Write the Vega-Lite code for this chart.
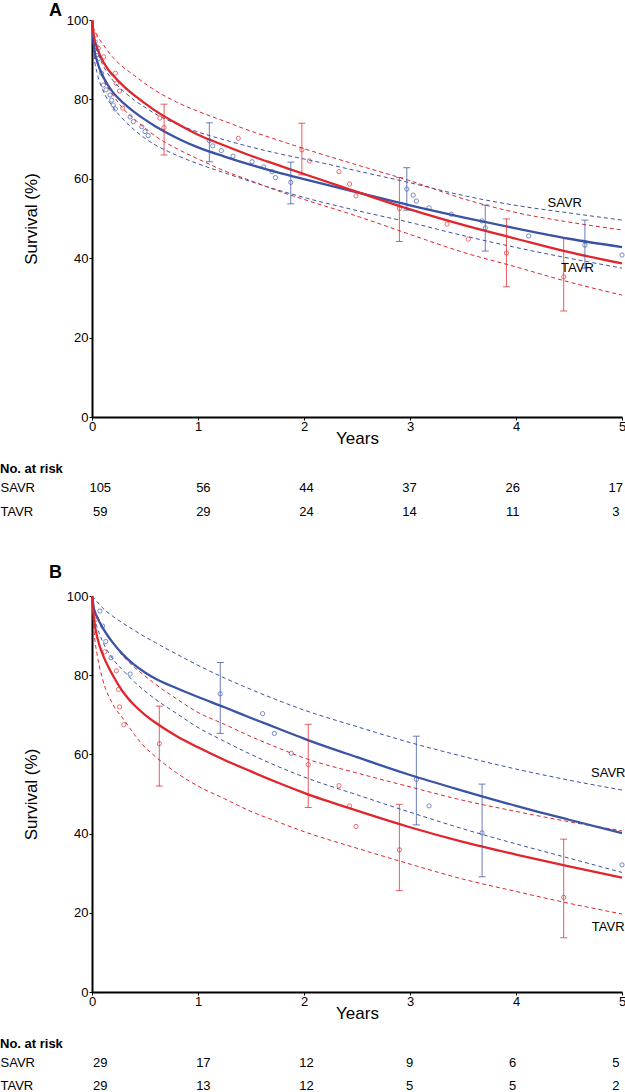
{
"$schema":"https://vega.github.io/schema/vega-lite/v6.json",
"padding":{"left":0,"top":2,"right":0,"bottom":0},
"bounds":"flush",
"spacing":59,
"config":{"font":"Liberation Sans","view":{"stroke":null},"axis":{"grid":false,"labelColor":"#000","titleColor":"#000","domainColor":"#000","tickColor":"#000","titleFontWeight":"normal","labelFont":"Liberation Sans","titleFont":"Liberation Sans"},"title":{"font":"Liberation Sans","color":"#000"}},
"datasets":{
"curvesA":[
{"arm":"SAVR","kind":"fit","t":0,"s":100},{"arm":"SAVR","kind":"fit","t":0.02,"s":93},{"arm":"SAVR","kind":"fit","t":0.05,"s":89.5},{"arm":"SAVR","kind":"fit","t":0.1,"s":86},{"arm":"SAVR","kind":"fit","t":0.15,"s":83.6},{"arm":"SAVR","kind":"fit","t":0.2,"s":81.7},{"arm":"SAVR","kind":"fit","t":0.3,"s":79},{"arm":"SAVR","kind":"fit","t":0.4,"s":76.8},{"arm":"SAVR","kind":"fit","t":0.5,"s":74.9},{"arm":"SAVR","kind":"fit","t":0.6,"s":73.2},{"arm":"SAVR","kind":"fit","t":0.8,"s":70.3},{"arm":"SAVR","kind":"fit","t":1,"s":67.9},{"arm":"SAVR","kind":"fit","t":1.25,"s":65.6},{"arm":"SAVR","kind":"fit","t":1.5,"s":63.5},{"arm":"SAVR","kind":"fit","t":1.75,"s":61.6},{"arm":"SAVR","kind":"fit","t":2,"s":59.9},{"arm":"SAVR","kind":"fit","t":2.5,"s":56.6},{"arm":"SAVR","kind":"fit","t":3,"s":53.3},{"arm":"SAVR","kind":"fit","t":3.5,"s":50.3},{"arm":"SAVR","kind":"fit","t":4,"s":47.5},{"arm":"SAVR","kind":"fit","t":4.5,"s":44.9},{"arm":"SAVR","kind":"fit","t":5,"s":42.8},
{"arm":"TAVR","kind":"fit","t":0,"s":100},{"arm":"TAVR","kind":"fit","t":0.02,"s":95.5},{"arm":"TAVR","kind":"fit","t":0.05,"s":92.8},{"arm":"TAVR","kind":"fit","t":0.1,"s":89.8},{"arm":"TAVR","kind":"fit","t":0.15,"s":87.6},{"arm":"TAVR","kind":"fit","t":0.2,"s":86},{"arm":"TAVR","kind":"fit","t":0.3,"s":83.3},{"arm":"TAVR","kind":"fit","t":0.4,"s":81},{"arm":"TAVR","kind":"fit","t":0.5,"s":79},{"arm":"TAVR","kind":"fit","t":0.6,"s":77.1},{"arm":"TAVR","kind":"fit","t":0.8,"s":73.9},{"arm":"TAVR","kind":"fit","t":1,"s":71.1},{"arm":"TAVR","kind":"fit","t":1.25,"s":68.4},{"arm":"TAVR","kind":"fit","t":1.5,"s":65.8},{"arm":"TAVR","kind":"fit","t":1.75,"s":63.5},{"arm":"TAVR","kind":"fit","t":2,"s":61.2},{"arm":"TAVR","kind":"fit","t":2.5,"s":56.7},{"arm":"TAVR","kind":"fit","t":3,"s":52.3},{"arm":"TAVR","kind":"fit","t":3.5,"s":48.4},{"arm":"TAVR","kind":"fit","t":4,"s":44.9},{"arm":"TAVR","kind":"fit","t":4.5,"s":41.5},{"arm":"TAVR","kind":"fit","t":5,"s":38.7},
{"arm":"SAVR","kind":"upper","t":0,"s":100},{"arm":"SAVR","kind":"upper","t":0.02,"s":95},{"arm":"SAVR","kind":"upper","t":0.05,"s":92},{"arm":"SAVR","kind":"upper","t":0.1,"s":88.8},{"arm":"SAVR","kind":"upper","t":0.2,"s":84.7},{"arm":"SAVR","kind":"upper","t":0.3,"s":82},{"arm":"SAVR","kind":"upper","t":0.4,"s":79.8},{"arm":"SAVR","kind":"upper","t":0.5,"s":78},{"arm":"SAVR","kind":"upper","t":0.6,"s":76.3},{"arm":"SAVR","kind":"upper","t":0.8,"s":73.8},{"arm":"SAVR","kind":"upper","t":1,"s":71.8},{"arm":"SAVR","kind":"upper","t":1.25,"s":69.8},{"arm":"SAVR","kind":"upper","t":1.5,"s":68},{"arm":"SAVR","kind":"upper","t":1.75,"s":66.4},{"arm":"SAVR","kind":"upper","t":2,"s":65},{"arm":"SAVR","kind":"upper","t":2.5,"s":62},{"arm":"SAVR","kind":"upper","t":3,"s":59},{"arm":"SAVR","kind":"upper","t":3.5,"s":55.8},{"arm":"SAVR","kind":"upper","t":4,"s":53.3},{"arm":"SAVR","kind":"upper","t":4.5,"s":51.4},{"arm":"SAVR","kind":"upper","t":5,"s":49.6},
{"arm":"SAVR","kind":"lower","t":0,"s":100},{"arm":"SAVR","kind":"lower","t":0.02,"s":91},{"arm":"SAVR","kind":"lower","t":0.05,"s":86.5},{"arm":"SAVR","kind":"lower","t":0.1,"s":82.5},{"arm":"SAVR","kind":"lower","t":0.2,"s":78},{"arm":"SAVR","kind":"lower","t":0.3,"s":74.8},{"arm":"SAVR","kind":"lower","t":0.4,"s":72.3},{"arm":"SAVR","kind":"lower","t":0.5,"s":70.2},{"arm":"SAVR","kind":"lower","t":0.6,"s":68.5},{"arm":"SAVR","kind":"lower","t":0.8,"s":65.9},{"arm":"SAVR","kind":"lower","t":1,"s":63.8},{"arm":"SAVR","kind":"lower","t":1.25,"s":61.5},{"arm":"SAVR","kind":"lower","t":1.5,"s":59.3},{"arm":"SAVR","kind":"lower","t":1.75,"s":57.2},{"arm":"SAVR","kind":"lower","t":2,"s":55.3},{"arm":"SAVR","kind":"lower","t":2.5,"s":52},{"arm":"SAVR","kind":"lower","t":3,"s":49},{"arm":"SAVR","kind":"lower","t":3.5,"s":45.7},{"arm":"SAVR","kind":"lower","t":4,"s":42.7},{"arm":"SAVR","kind":"lower","t":4.5,"s":40},{"arm":"SAVR","kind":"lower","t":5,"s":37.5},
{"arm":"TAVR","kind":"upper","t":0,"s":100},{"arm":"TAVR","kind":"upper","t":0.02,"s":97.5},{"arm":"TAVR","kind":"upper","t":0.05,"s":96},{"arm":"TAVR","kind":"upper","t":0.1,"s":94},{"arm":"TAVR","kind":"upper","t":0.2,"s":90.5},{"arm":"TAVR","kind":"upper","t":0.3,"s":88},{"arm":"TAVR","kind":"upper","t":0.4,"s":86},{"arm":"TAVR","kind":"upper","t":0.5,"s":84},{"arm":"TAVR","kind":"upper","t":0.6,"s":82.2},{"arm":"TAVR","kind":"upper","t":0.8,"s":79.3},{"arm":"TAVR","kind":"upper","t":1,"s":77},{"arm":"TAVR","kind":"upper","t":1.25,"s":74.5},{"arm":"TAVR","kind":"upper","t":1.5,"s":72},{"arm":"TAVR","kind":"upper","t":1.75,"s":69.8},{"arm":"TAVR","kind":"upper","t":2,"s":67.6},{"arm":"TAVR","kind":"upper","t":2.5,"s":63.5},{"arm":"TAVR","kind":"upper","t":3,"s":59.5},{"arm":"TAVR","kind":"upper","t":3.5,"s":55},{"arm":"TAVR","kind":"upper","t":4,"s":51.5},{"arm":"TAVR","kind":"upper","t":4.5,"s":49.1},{"arm":"TAVR","kind":"upper","t":5,"s":47.1},
{"arm":"TAVR","kind":"lower","t":0,"s":100},{"arm":"TAVR","kind":"lower","t":0.02,"s":92},{"arm":"TAVR","kind":"lower","t":0.05,"s":89},{"arm":"TAVR","kind":"lower","t":0.1,"s":85.5},{"arm":"TAVR","kind":"lower","t":0.2,"s":81},{"arm":"TAVR","kind":"lower","t":0.3,"s":77.5},{"arm":"TAVR","kind":"lower","t":0.4,"s":75},{"arm":"TAVR","kind":"lower","t":0.5,"s":72.8},{"arm":"TAVR","kind":"lower","t":0.6,"s":70.7},{"arm":"TAVR","kind":"lower","t":0.8,"s":67.6},{"arm":"TAVR","kind":"lower","t":1,"s":65},{"arm":"TAVR","kind":"lower","t":1.25,"s":62},{"arm":"TAVR","kind":"lower","t":1.5,"s":59.5},{"arm":"TAVR","kind":"lower","t":1.75,"s":57},{"arm":"TAVR","kind":"lower","t":2,"s":54.8},{"arm":"TAVR","kind":"lower","t":2.5,"s":50.6},{"arm":"TAVR","kind":"lower","t":3,"s":46},{"arm":"TAVR","kind":"lower","t":3.5,"s":41.5},{"arm":"TAVR","kind":"lower","t":4,"s":37.8},{"arm":"TAVR","kind":"lower","t":4.5,"s":34},{"arm":"TAVR","kind":"lower","t":5,"s":30.7}
],
"curvesB":[
{"arm":"SAVR","kind":"fit","t":0,"s":100},{"arm":"SAVR","kind":"fit","t":0.02,"s":96.6},{"arm":"SAVR","kind":"fit","t":0.05,"s":94.6},{"arm":"SAVR","kind":"fit","t":0.1,"s":92},{"arm":"SAVR","kind":"fit","t":0.15,"s":89.9},{"arm":"SAVR","kind":"fit","t":0.2,"s":88.1},{"arm":"SAVR","kind":"fit","t":0.3,"s":85},{"arm":"SAVR","kind":"fit","t":0.4,"s":82.6},{"arm":"SAVR","kind":"fit","t":0.5,"s":80.7},{"arm":"SAVR","kind":"fit","t":0.6,"s":79.1},{"arm":"SAVR","kind":"fit","t":0.8,"s":76.7},{"arm":"SAVR","kind":"fit","t":1,"s":74.5},{"arm":"SAVR","kind":"fit","t":1.25,"s":71.9},{"arm":"SAVR","kind":"fit","t":1.5,"s":69.2},{"arm":"SAVR","kind":"fit","t":1.75,"s":66.6},{"arm":"SAVR","kind":"fit","t":2,"s":64},{"arm":"SAVR","kind":"fit","t":2.5,"s":59.3},{"arm":"SAVR","kind":"fit","t":3,"s":54.8},{"arm":"SAVR","kind":"fit","t":3.5,"s":50.8},{"arm":"SAVR","kind":"fit","t":4,"s":47},{"arm":"SAVR","kind":"fit","t":4.5,"s":43.5},{"arm":"SAVR","kind":"fit","t":5,"s":40.1},
{"arm":"TAVR","kind":"fit","t":0,"s":100},{"arm":"TAVR","kind":"fit","t":0.02,"s":94},{"arm":"TAVR","kind":"fit","t":0.05,"s":89.5},{"arm":"TAVR","kind":"fit","t":0.1,"s":85.3},{"arm":"TAVR","kind":"fit","t":0.15,"s":82.3},{"arm":"TAVR","kind":"fit","t":0.2,"s":79.8},{"arm":"TAVR","kind":"fit","t":0.3,"s":75.5},{"arm":"TAVR","kind":"fit","t":0.4,"s":72.4},{"arm":"TAVR","kind":"fit","t":0.5,"s":70},{"arm":"TAVR","kind":"fit","t":0.6,"s":68},{"arm":"TAVR","kind":"fit","t":0.8,"s":64.6},{"arm":"TAVR","kind":"fit","t":1,"s":61.8},{"arm":"TAVR","kind":"fit","t":1.25,"s":58.6},{"arm":"TAVR","kind":"fit","t":1.5,"s":55.7},{"arm":"TAVR","kind":"fit","t":1.75,"s":52.9},{"arm":"TAVR","kind":"fit","t":2,"s":50.3},{"arm":"TAVR","kind":"fit","t":2.5,"s":45.8},{"arm":"TAVR","kind":"fit","t":3,"s":41.6},{"arm":"TAVR","kind":"fit","t":3.5,"s":37.9},{"arm":"TAVR","kind":"fit","t":4,"s":34.7},{"arm":"TAVR","kind":"fit","t":4.5,"s":31.7},{"arm":"TAVR","kind":"fit","t":5,"s":28.9},
{"arm":"SAVR","kind":"upper","t":0,"s":100},{"arm":"SAVR","kind":"upper","t":0.05,"s":98.5},{"arm":"SAVR","kind":"upper","t":0.1,"s":97},{"arm":"SAVR","kind":"upper","t":0.2,"s":94.8},{"arm":"SAVR","kind":"upper","t":0.3,"s":93},{"arm":"SAVR","kind":"upper","t":0.4,"s":91.3},{"arm":"SAVR","kind":"upper","t":0.5,"s":89.7},{"arm":"SAVR","kind":"upper","t":0.6,"s":88.2},{"arm":"SAVR","kind":"upper","t":0.8,"s":85.3},{"arm":"SAVR","kind":"upper","t":1,"s":82.5},{"arm":"SAVR","kind":"upper","t":1.25,"s":79.3},{"arm":"SAVR","kind":"upper","t":1.5,"s":76.4},{"arm":"SAVR","kind":"upper","t":1.75,"s":73.7},{"arm":"SAVR","kind":"upper","t":2,"s":71.2},{"arm":"SAVR","kind":"upper","t":2.5,"s":67},{"arm":"SAVR","kind":"upper","t":3,"s":63},{"arm":"SAVR","kind":"upper","t":3.5,"s":59.5},{"arm":"SAVR","kind":"upper","t":4,"s":56.3},{"arm":"SAVR","kind":"upper","t":4.5,"s":53.5},{"arm":"SAVR","kind":"upper","t":5,"s":51},
{"arm":"SAVR","kind":"lower","t":0,"s":100},{"arm":"SAVR","kind":"lower","t":0.02,"s":95},{"arm":"SAVR","kind":"lower","t":0.05,"s":92},{"arm":"SAVR","kind":"lower","t":0.1,"s":88.5},{"arm":"SAVR","kind":"lower","t":0.2,"s":84},{"arm":"SAVR","kind":"lower","t":0.3,"s":81},{"arm":"SAVR","kind":"lower","t":0.4,"s":78.3},{"arm":"SAVR","kind":"lower","t":0.5,"s":76},{"arm":"SAVR","kind":"lower","t":0.6,"s":73.9},{"arm":"SAVR","kind":"lower","t":0.8,"s":70.3},{"arm":"SAVR","kind":"lower","t":1,"s":66.8},{"arm":"SAVR","kind":"lower","t":1.25,"s":63.3},{"arm":"SAVR","kind":"lower","t":1.5,"s":60},{"arm":"SAVR","kind":"lower","t":1.75,"s":57},{"arm":"SAVR","kind":"lower","t":2,"s":54.3},{"arm":"SAVR","kind":"lower","t":2.5,"s":49.8},{"arm":"SAVR","kind":"lower","t":3,"s":45.4},{"arm":"SAVR","kind":"lower","t":3.5,"s":41.2},{"arm":"SAVR","kind":"lower","t":4,"s":37.4},{"arm":"SAVR","kind":"lower","t":4.5,"s":33.8},{"arm":"SAVR","kind":"lower","t":5,"s":30.2},
{"arm":"TAVR","kind":"upper","t":0,"s":100},{"arm":"TAVR","kind":"upper","t":0.02,"s":97},{"arm":"TAVR","kind":"upper","t":0.05,"s":95},{"arm":"TAVR","kind":"upper","t":0.1,"s":92},{"arm":"TAVR","kind":"upper","t":0.2,"s":88},{"arm":"TAVR","kind":"upper","t":0.3,"s":84.6},{"arm":"TAVR","kind":"upper","t":0.4,"s":82},{"arm":"TAVR","kind":"upper","t":0.5,"s":79.8},{"arm":"TAVR","kind":"upper","t":0.6,"s":77.7},{"arm":"TAVR","kind":"upper","t":0.8,"s":74},{"arm":"TAVR","kind":"upper","t":1,"s":70.6},{"arm":"TAVR","kind":"upper","t":1.25,"s":67.6},{"arm":"TAVR","kind":"upper","t":1.5,"s":64.5},{"arm":"TAVR","kind":"upper","t":1.75,"s":61.7},{"arm":"TAVR","kind":"upper","t":2,"s":59.1},{"arm":"TAVR","kind":"upper","t":2.5,"s":55.3},{"arm":"TAVR","kind":"upper","t":3,"s":51.8},{"arm":"TAVR","kind":"upper","t":3.5,"s":48.4},{"arm":"TAVR","kind":"upper","t":4,"s":45.6},{"arm":"TAVR","kind":"upper","t":4.5,"s":43},{"arm":"TAVR","kind":"upper","t":5,"s":40.7},
{"arm":"TAVR","kind":"lower","t":0,"s":100},{"arm":"TAVR","kind":"lower","t":0.02,"s":91},{"arm":"TAVR","kind":"lower","t":0.05,"s":85},{"arm":"TAVR","kind":"lower","t":0.1,"s":79},{"arm":"TAVR","kind":"lower","t":0.2,"s":72.5},{"arm":"TAVR","kind":"lower","t":0.3,"s":68.8},{"arm":"TAVR","kind":"lower","t":0.4,"s":65},{"arm":"TAVR","kind":"lower","t":0.5,"s":61.8},{"arm":"TAVR","kind":"lower","t":0.6,"s":59.4},{"arm":"TAVR","kind":"lower","t":0.8,"s":55.3},{"arm":"TAVR","kind":"lower","t":1,"s":52},{"arm":"TAVR","kind":"lower","t":1.25,"s":48.8},{"arm":"TAVR","kind":"lower","t":1.5,"s":45.6},{"arm":"TAVR","kind":"lower","t":1.75,"s":43},{"arm":"TAVR","kind":"lower","t":2,"s":40.5},{"arm":"TAVR","kind":"lower","t":2.5,"s":36.3},{"arm":"TAVR","kind":"lower","t":3,"s":32.3},{"arm":"TAVR","kind":"lower","t":3.5,"s":28.5},{"arm":"TAVR","kind":"lower","t":4,"s":25.4},{"arm":"TAVR","kind":"lower","t":4.5,"s":22.4},{"arm":"TAVR","kind":"lower","t":5,"s":19.7}
],
"pointsA":[
{"arm":"SAVR","t":0.03,"s":94.5},{"arm":"SAVR","t":0.04,"s":93.3},{"arm":"SAVR","t":0.05,"s":92},{"arm":"SAVR","t":0.06,"s":90.3},{"arm":"SAVR","t":0.09,"s":86.6},{"arm":"SAVR","t":0.107,"s":83.6},{"arm":"SAVR","t":0.132,"s":82.4},{"arm":"SAVR","t":0.17,"s":81.1},{"arm":"SAVR","t":0.186,"s":79.8},{"arm":"SAVR","t":0.2,"s":78.6},{"arm":"SAVR","t":0.22,"s":77.6},{"arm":"SAVR","t":0.36,"s":75.6},{"arm":"SAVR","t":0.39,"s":74.4},{"arm":"SAVR","t":0.47,"s":73.1},{"arm":"SAVR","t":0.5,"s":71.9},{"arm":"SAVR","t":0.53,"s":70.9},{"arm":"SAVR","t":1.107,"s":69.6},{"arm":"SAVR","t":1.14,"s":68.3},{"arm":"SAVR","t":1.22,"s":67.1},{"arm":"SAVR","t":1.33,"s":65.7},{"arm":"SAVR","t":1.51,"s":64.3},{"arm":"SAVR","t":1.62,"s":63},{"arm":"SAVR","t":1.7,"s":61.8},{"arm":"SAVR","t":1.73,"s":60.3},{"arm":"SAVR","t":1.875,"s":59.1},{"arm":"SAVR","t":2.97,"s":57.4},{"arm":"SAVR","t":3.03,"s":55.9},{"arm":"SAVR","t":3.06,"s":54.4},{"arm":"SAVR","t":3.18,"s":52.7},{"arm":"SAVR","t":3.39,"s":51.1},{"arm":"SAVR","t":3.68,"s":49.4},{"arm":"SAVR","t":3.71,"s":47.6},{"arm":"SAVR","t":4.12,"s":45.6},{"arm":"SAVR","t":4.65,"s":43.3},{"arm":"SAVR","t":5,"s":40.8},
{"arm":"TAVR","t":0.03,"s":96.2},{"arm":"TAVR","t":0.06,"s":92.9},{"arm":"TAVR","t":0.11,"s":90.7},{"arm":"TAVR","t":0.22,"s":86.6},{"arm":"TAVR","t":0.23,"s":84},{"arm":"TAVR","t":0.26,"s":82.1},{"arm":"TAVR","t":0.29,"s":77.8},{"arm":"TAVR","t":0.64,"s":75.3},{"arm":"TAVR","t":0.68,"s":72.9},{"arm":"TAVR","t":1.38,"s":70.2},{"arm":"TAVR","t":1.98,"s":67.3},{"arm":"TAVR","t":2.05,"s":64.5},{"arm":"TAVR","t":2.33,"s":61.8},{"arm":"TAVR","t":2.43,"s":58.7},{"arm":"TAVR","t":2.49,"s":55.7},{"arm":"TAVR","t":2.9,"s":52.5},{"arm":"TAVR","t":3.35,"s":48.6},{"arm":"TAVR","t":3.55,"s":44.8},{"arm":"TAVR","t":3.91,"s":41.3},{"arm":"TAVR","t":4.45,"s":35.3}
],
"pointsB":[
{"arm":"SAVR","t":0.075,"s":96.2},{"arm":"SAVR","t":0.1,"s":92.4},{"arm":"SAVR","t":0.13,"s":88.5},{"arm":"SAVR","t":0.18,"s":84.4},{"arm":"SAVR","t":0.36,"s":80.3},{"arm":"SAVR","t":1.21,"s":75.3},{"arm":"SAVR","t":1.61,"s":70.3},{"arm":"SAVR","t":1.72,"s":65.3},{"arm":"SAVR","t":1.88,"s":60.3},{"arm":"SAVR","t":3.06,"s":53.7},{"arm":"SAVR","t":3.18,"s":47},{"arm":"SAVR","t":3.68,"s":40.2},{"arm":"SAVR","t":5,"s":32.1},
{"arm":"TAVR","t":0.03,"s":94},{"arm":"TAVR","t":0.12,"s":85.9},{"arm":"TAVR","t":0.23,"s":81.1},{"arm":"TAVR","t":0.25,"s":76.4},{"arm":"TAVR","t":0.26,"s":72},{"arm":"TAVR","t":0.3,"s":67.5},{"arm":"TAVR","t":0.635,"s":62.7},{"arm":"TAVR","t":2.04,"s":57.4},{"arm":"TAVR","t":2.33,"s":52.1},{"arm":"TAVR","t":2.43,"s":47},{"arm":"TAVR","t":2.49,"s":41.8},{"arm":"TAVR","t":2.9,"s":35.9},{"arm":"TAVR","t":4.45,"s":23.9}
],
"barsA":[
{"arm":"TAVR","t":0.68,"lo":66,"hi":78.8},{"arm":"TAVR","t":1.98,"lo":61,"hi":74},{"arm":"TAVR","t":2.9,"lo":44.2,"hi":60.3},{"arm":"TAVR","t":3.91,"lo":32.8,"hi":49.9},{"arm":"TAVR","t":4.45,"lo":26.7,"hi":45.2},
{"arm":"SAVR","t":1.107,"lo":64.3,"hi":74.1},{"arm":"SAVR","t":1.875,"lo":53.7,"hi":64.2},{"arm":"SAVR","t":2.97,"lo":52.1,"hi":62.8},{"arm":"SAVR","t":3.71,"lo":41.8,"hi":53.4},{"arm":"SAVR","t":4.65,"lo":37.5,"hi":49.6}
],
"barsB":[
{"arm":"TAVR","t":0.635,"lo":52,"hi":72.2},{"arm":"TAVR","t":2.04,"lo":46.6,"hi":67.6},{"arm":"TAVR","t":2.9,"lo":25.6,"hi":47.4},{"arm":"TAVR","t":4.45,"lo":13.7,"hi":38.6},
{"arm":"SAVR","t":1.21,"lo":65.3,"hi":83.2},{"arm":"SAVR","t":3.06,"lo":42.2,"hi":64.6},{"arm":"SAVR","t":3.68,"lo":29.1,"hi":52.5}
],
"labelsA":[{"label":"SAVR","t":4.46,"s":53.9},{"label":"TAVR","t":4.58,"s":37.5}],
"labelsB":[{"label":"SAVR","t":4.87,"s":55.3},{"label":"TAVR","t":4.87,"s":16.4}],
"riskA":[
{"row":"SAVR","t":0,"n":"105"},{"row":"SAVR","t":1,"n":"56"},{"row":"SAVR","t":2,"n":"44"},{"row":"SAVR","t":3,"n":"37"},{"row":"SAVR","t":4,"n":"26"},{"row":"SAVR","t":5,"n":"17"},
{"row":"TAVR","t":0,"n":"59"},{"row":"TAVR","t":1,"n":"29"},{"row":"TAVR","t":2,"n":"24"},{"row":"TAVR","t":3,"n":"14"},{"row":"TAVR","t":4,"n":"11"},{"row":"TAVR","t":5,"n":"3"}
],
"riskB":[
{"row":"SAVR","t":0,"n":"29"},{"row":"SAVR","t":1,"n":"17"},{"row":"SAVR","t":2,"n":"12"},{"row":"SAVR","t":3,"n":"9"},{"row":"SAVR","t":4,"n":"6"},{"row":"SAVR","t":5,"n":"5"},
{"row":"TAVR","t":0,"n":"29"},{"row":"TAVR","t":1,"n":"13"},{"row":"TAVR","t":2,"n":"12"},{"row":"TAVR","t":3,"n":"5"},{"row":"TAVR","t":4,"n":"5"},{"row":"TAVR","t":5,"n":"2"}
]
},
"vconcat":[
 {"width":530,"height":397,
  "title":{"text":"A","anchor":"start","frame":"group","dx":-43,"fontSize":18,"fontWeight":"bold","offset":-6},
  "encoding":{
   "x":{"field":"t","type":"quantitative","title":"Years","scale":{"domain":[0,5],"nice":false},"axis":{"values":[0,1,2,3,4,5],"labelFontSize":13,"titleFontSize":17,"tickSize":3,"domainWidth":2,"labelPadding":0,"titlePadding":-3,"labelFlush":false}},
   "y":{"field":"s","type":"quantitative","title":"Survival (%)","scale":{"domain":[0,100],"nice":false},"axis":{"values":[0,20,40,60,80,100],"labelFontSize":13,"titleFontSize":17,"tickSize":3,"domainWidth":2,"labelPadding":1,"titlePadding":26,"labelFlush":false}},
   "color":{"field":"arm","type":"nominal","scale":{"domain":["SAVR","TAVR"],"range":["#3a53a4","#e0262c"]},"legend":null}
  },
  "layer":[
   {"data":{"name":"curvesA"},"transform":[{"filter":"datum.kind != 'fit'"}],"mark":{"type":"line","strokeWidth":1,"strokeDash":[4,3],"interpolate":"monotone"},"encoding":{"detail":{"field":"kind"}}},
   {"data":{"name":"curvesA"},"transform":[{"filter":"datum.kind == 'fit'"}],"mark":{"type":"line","strokeWidth":2.3,"interpolate":"monotone"},"encoding":{"detail":{"field":"kind"}}},
   {"data":{"name":"barsA"},"mark":{"type":"rule","strokeWidth":1,"opacity":0.75},"encoding":{"y":{"field":"lo","type":"quantitative","title":"Survival (%)"},"y2":{"field":"hi"}}},
   {"data":{"name":"barsA"},"mark":{"type":"tick","orient":"horizontal","size":7,"thickness":1,"opacity":0.75},"encoding":{"y":{"field":"lo","type":"quantitative","title":"Survival (%)"}}},
   {"data":{"name":"barsA"},"mark":{"type":"tick","orient":"horizontal","size":7,"thickness":1,"opacity":0.75},"encoding":{"y":{"field":"hi","type":"quantitative","title":"Survival (%)"}}},
   {"data":{"name":"pointsA"},"mark":{"type":"point","shape":"circle","filled":false,"size":18,"strokeWidth":0.9,"opacity":0.75}},
   {"data":{"name":"labelsA"},"mark":{"type":"text","fontSize":13,"align":"center","baseline":"middle","color":"#000"},"encoding":{"text":{"field":"label"},"color":{"value":"#000"}}}
  ]
 },
 {"width":530,"height":61,
  "title":{"text":"No. at risk","anchor":"start","frame":"bounds","fontSize":13,"fontWeight":"bold","baseline":"alphabetic","offset":-10},
  "data":{"name":"riskA"},
  "mark":{"type":"text","fontSize":13,"align":"center","baseline":"middle","color":"#000"},
  "encoding":{
   "x":{"field":"t","type":"quantitative","scale":{"domain":[-0.08,5.06],"nice":false,"zero":false},"axis":null},
   "y":{"field":"row","type":"nominal","scale":{"type":"point","domain":["SAVR","TAVR"],"padding":0.7708,"align":0.3243},"axis":{"title":null,"labelAlign":"left","labelPadding":92,"ticks":false,"tickSize":0,"domain":false,"labelFontSize":13,"labelBaseline":"middle"}},
   "text":{"field":"n"}
  }
 },
 {"width":530,"height":396,
  "title":{"text":"B","anchor":"start","frame":"group","dx":-43,"fontSize":18,"fontWeight":"bold","offset":8},
  "encoding":{
   "x":{"field":"t","type":"quantitative","title":"Years","scale":{"domain":[0,5],"nice":false},"axis":{"values":[0,1,2,3,4,5],"labelFontSize":13,"titleFontSize":17,"tickSize":3,"domainWidth":2,"labelPadding":0,"titlePadding":-3,"labelFlush":false}},
   "y":{"field":"s","type":"quantitative","title":"Survival (%)","scale":{"domain":[0,100],"nice":false},"axis":{"values":[0,20,40,60,80,100],"labelFontSize":13,"titleFontSize":17,"tickSize":3,"domainWidth":2,"labelPadding":1,"titlePadding":26,"labelFlush":false}},
   "color":{"field":"arm","type":"nominal","scale":{"domain":["SAVR","TAVR"],"range":["#3a53a4","#e0262c"]},"legend":null}
  },
  "layer":[
   {"data":{"name":"curvesB"},"transform":[{"filter":"datum.kind != 'fit'"}],"mark":{"type":"line","strokeWidth":1,"strokeDash":[4,3],"interpolate":"monotone"},"encoding":{"detail":{"field":"kind"}}},
   {"data":{"name":"curvesB"},"transform":[{"filter":"datum.kind == 'fit'"}],"mark":{"type":"line","strokeWidth":2.3,"interpolate":"monotone"},"encoding":{"detail":{"field":"kind"}}},
   {"data":{"name":"barsB"},"mark":{"type":"rule","strokeWidth":1,"opacity":0.75},"encoding":{"y":{"field":"lo","type":"quantitative","title":"Survival (%)"},"y2":{"field":"hi"}}},
   {"data":{"name":"barsB"},"mark":{"type":"tick","orient":"horizontal","size":7,"thickness":1,"opacity":0.75},"encoding":{"y":{"field":"lo","type":"quantitative","title":"Survival (%)"}}},
   {"data":{"name":"barsB"},"mark":{"type":"tick","orient":"horizontal","size":7,"thickness":1,"opacity":0.75},"encoding":{"y":{"field":"hi","type":"quantitative","title":"Survival (%)"}}},
   {"data":{"name":"pointsB"},"mark":{"type":"point","shape":"circle","filled":false,"size":18,"strokeWidth":0.9,"opacity":0.75}},
   {"data":{"name":"labelsB"},"mark":{"type":"text","fontSize":13,"align":"center","baseline":"middle","color":"#000"},"encoding":{"text":{"field":"label"},"color":{"value":"#000"}}}
  ]
 },
 {"width":530,"height":46,
  "title":{"text":"No. at risk","anchor":"start","frame":"bounds","fontSize":13,"fontWeight":"bold","baseline":"alphabetic","offset":-10},
  "data":{"name":"riskB"},
  "mark":{"type":"text","fontSize":13,"align":"center","baseline":"middle","color":"#000"},
  "encoding":{
   "x":{"field":"t","type":"quantitative","scale":{"domain":[-0.08,5.06],"nice":false,"zero":false},"axis":null},
   "y":{"field":"row","type":"nominal","scale":{"type":"point","domain":["SAVR","TAVR"]},"axis":{"title":null,"labelAlign":"left","labelPadding":92,"ticks":false,"tickSize":0,"domain":false,"labelFontSize":13,"labelBaseline":"middle"}},
   "text":{"field":"n"}
  }
 }
]
}
